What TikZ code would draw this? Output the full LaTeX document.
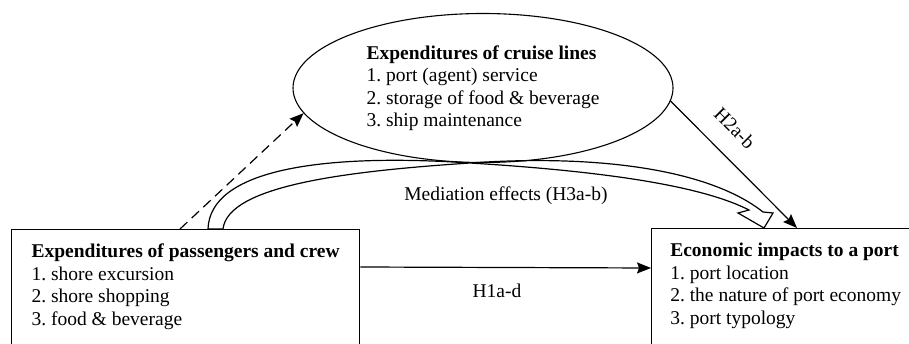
\documentclass[tikz,border=0pt]{standalone}
\usepackage{fontspec}
\setmainfont{Liberation Serif}
\usetikzlibrary{arrows.meta,shapes.geometric}
\tikzstyle{factor}=[draw,rectangle,line width=1.3pt,align=left,anchor=north west,inner xsep=0pt,inner ysep=14.5pt,text depth=40pt]
\tikzstyle{mediator}=[draw,ellipse,line width=1.1pt,align=left,inner sep=0pt,minimum width=380pt,minimum height=149pt]
\tikzstyle{edge} = [draw,line width=1.2pt,-{Stealth[length=14pt,width=11pt,inset=2pt]}]
\tikzstyle{ribbon} = [draw,line width=1.2pt,line join=miter]
\tikzstyle{weight} = [inner sep=2pt]

\begin{document}
\frenchspacing
\begin{tikzpicture}[x=1pt,y=-1pt,every node/.style={font=\fontsize{19.5}{22.5}\selectfont}]
	\useasboundingbox (0,0) rectangle (909,344);
	\clip (0,0) rectangle (909,344);

	% First we draw the three factors
	\node[factor,minimum width=348pt] (pax) at (11,229)
		{\textbf{Expenditures of passengers and crew}\\1. shore excursion\\2. shore shopping\\3. food \& beverage};
	\node[factor,minimum width=268pt] (port) at (651,228)
		{\textbf{Economic impacts to a port}\\1. port location\\2. the nature of port economy\\3. port typology};
	\node[mediator] (cruise) at (483,88)
		{\textbf{Expenditures of cruise lines}\\1. port (agent) service\\2. storage of food \& beverage\\3. ship maintenance};

	% Direct and indirect paths
	\path[edge,dash pattern=on 10pt off 6pt] ([xshift=169pt]pax.north west) -- (cruise.188);
	\path[edge] (cruise.-4) -- node[weight,sloped,above=17pt,pos=0.36] {H2a-b} ([xshift=146pt]port.north west);
	\path[edge] ([yshift=-38pt]pax.north east) -- node[weight,below=14pt,pos=0.47] {H1a-d} ([yshift=-40pt]port.north west);

	% Mediation effects as a twisted ribbon arrow
	\coordinate (m1) at (208,229);
	\coordinate (m2) at (223,229);
	\coordinate (mx) at (470,163);
	\coordinate (hl) at (749,210);
	\coordinate (hlb) at (738,213);
	\coordinate (tip) at (764,228);
	\coordinate (hrb) at (773,213);
	\coordinate (hr) at (763,212);
	\path[ribbon] (m1) .. controls (210,170) and (320,153) .. (mx)
		.. controls (600,171) and (700,185) .. (hl) -- (hlb) -- (tip) -- (hrb) -- (hr)
		.. controls (710,170) and (600,154) .. (mx)
		.. controls (350,171) and (228,185) .. (m2) -- cycle;
	\node[weight] (medlabel) at (506,196) {Mediation effects (H3a-b)};

\end{tikzpicture}
\end{document}
